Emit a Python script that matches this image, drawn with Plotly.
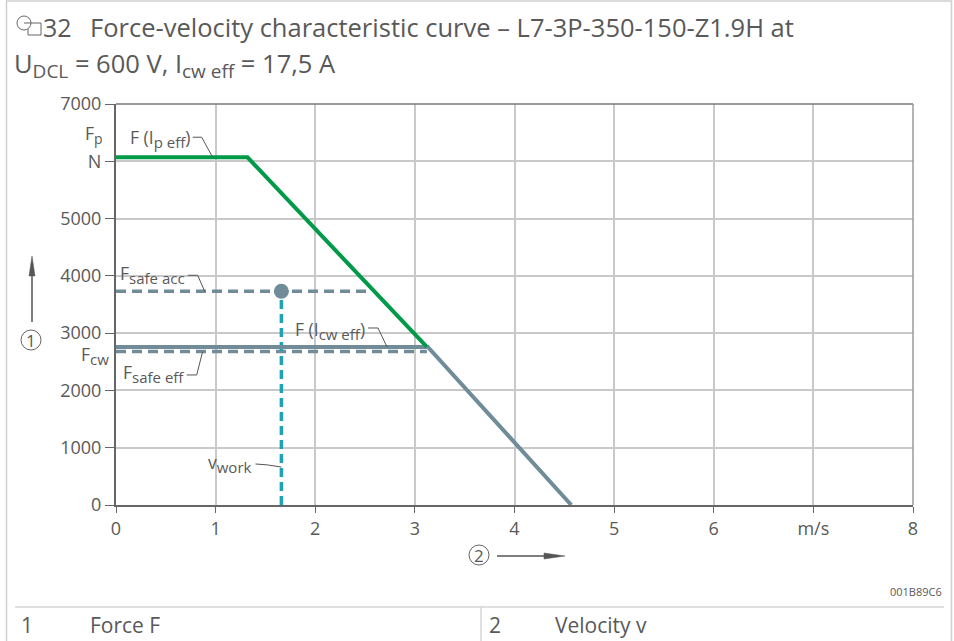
import plotly.graph_objects as go

# ---- data -------------------------------------------------------------
v_peak = [0.0, 1.32, 3.12]          # m/s
F_peak = [6070, 6070, 2760]         # N
v_cont = [0.0, 3.13, 4.57]
F_cont = [2760, 2760, 0]
F_safe_acc = 3730
v_safe_acc_end = 2.55
F_safe_eff = 2680
v_safe_eff_end = 3.12
v_work = 1.66

x_tickvals = [0, 1, 2, 3, 4, 5, 6, 7, 8]
x_ticktext = ["0", "1", "2", "3", "4", "5", "6", "m/s", "8"]
y_tickvals = [0, 1000, 2000, 3000, 4000, 5000, 6000, 7000]
y_ticktext = ["0", "1000", "2000", "3000", "4000", "5000", "N", "7000"]

# ---- styles -----------------------------------------------------------
W, H = 954, 641
ML, MR, MT, MB = 116, 41, 104, 136
PW, PH = W - ML - MR, H - MT - MB
GREEN = "#009a48"
SLATE = "#6f8c98"
CYAN = "#1ea2b5"
TXT = "#595959"
GRID = "#c9c9c9"
FONT = "Open Sans"
LBL = 17.5


def px(xp):
    return (xp - ML) / PW


def py(yp):
    return (H - MB - yp) / PH


def sub(t, size=15):
    return f"<sub><span style='font-size:{size}px'>{t}</span></sub>"


fig = go.Figure()

fig.add_trace(go.Scatter(x=[0, v_safe_eff_end], y=[F_safe_eff] * 2, mode="lines",
                         line=dict(color=SLATE, width=3.5, dash="10px,6px"), hoverinfo="skip"))
fig.add_trace(go.Scatter(x=[0, v_safe_acc_end], y=[F_safe_acc] * 2, mode="lines",
                         line=dict(color=SLATE, width=3.5, dash="10px,6px"), hoverinfo="skip"))
fig.add_trace(go.Scatter(x=[v_work, v_work], y=[0, F_safe_acc], mode="lines",
                         line=dict(color=CYAN, width=3.5, dash="9px,5px"), hoverinfo="skip"))
fig.add_trace(go.Scatter(x=v_cont, y=F_cont, mode="lines",
                         line=dict(color=SLATE, width=4), hoverinfo="skip"))
fig.add_trace(go.Scatter(x=v_peak, y=F_peak, mode="lines",
                         line=dict(color=GREEN, width=4), hoverinfo="skip"))
fig.add_trace(go.Scatter(x=[v_work], y=[F_safe_acc], mode="markers",
                         marker=dict(color=SLATE, size=15), hoverinfo="skip"))

shapes = []
annotations = []

# leader lines for the curve labels (data coordinates)
leaders = [
    [(0.77, 6420), (0.86, 6420), (0.97, F_peak[0])],
    [(0.72, 4010), (0.82, 4010), (0.89, F_safe_acc)],
    [(2.53, 3090), (2.63, 3090), (2.72, F_cont[0])],
    [(0.71, 2270), (0.81, 2270), (0.87, F_safe_eff)],
    [(1.40, 716), (1.52, 700), (v_work, 663)],
]
for pts in leaders:
    path = "M " + " L ".join(f"{a},{b}" for a, b in pts)
    shapes.append(dict(type="path", path=path, xref="x", yref="y",
                       line=dict(color="#555555", width=1)))


def label(x, y, text, xanchor="right"):
    annotations.append(dict(x=x, y=y, xref="x", yref="y", text=text, showarrow=False,
                            xanchor=xanchor, yanchor="middle",
                            font=dict(family=FONT, size=LBL, color=TXT)))


label(0.76, 6400, "F (I" + sub("p eff") + ")")
label(0.71, 4020, "F" + sub("safe acc"))
label(2.52, 3040, "F (I" + sub("cw eff") + ")")
label(0.70, 2300, "F" + sub("safe eff"))
label(1.39, 720, "v" + sub("work"))

# extra y labels beside the ticks
annotations.append(dict(x=px(105), y=py(135), xref="paper", yref="paper",
                        text="F" + sub("p", 14),
                        showarrow=False, xanchor="right", yanchor="middle",
                        font=dict(family=FONT, size=LBL, color=TXT)))
annotations.append(dict(x=px(111), y=py(355), xref="paper", yref="paper",
                        text="F" + sub("cw"),
                        showarrow=False, xanchor="right", yanchor="middle",
                        font=dict(family=FONT, size=LBL, color=TXT)))

# plot frame: top and right edges
shapes.append(dict(type="line", xref="paper", yref="paper", x0=0, x1=1, y0=1, y1=1,
                   line=dict(color="#777777", width=1.5)))
shapes.append(dict(type="line", xref="paper", yref="paper", x0=1, x1=1, y0=0, y1=1,
                   line=dict(color="#9a9a9a", width=1.5)))

# axis direction arrows with circled numbers
ARROW = "#555555"
shapes.append(dict(type="line", xref="paper", yref="paper", x0=px(32), x1=px(32),
                   y0=py(322), y1=py(272), line=dict(color=ARROW, width=1.5)))
shapes.append(dict(type="path", xref="paper", yref="paper",
                   path=f"M {px(29)},{py(276)} L {px(32)},{py(256)} L {px(35)},{py(276)} Z",
                   fillcolor=ARROW, line=dict(color=ARROW, width=0.5)))
shapes.append(dict(type="line", xref="paper", yref="paper", x0=px(497), x1=px(548),
                   y0=py(556), y1=py(556), line=dict(color=ARROW, width=1.5)))
shapes.append(dict(type="path", xref="paper", yref="paper",
                   path=f"M {px(544)},{py(553)} L {px(565)},{py(556)} L {px(544)},{py(559)} Z",
                   fillcolor=ARROW, line=dict(color=ARROW, width=0.5)))
for cx, cy, t in [(31, 340, "1"), (479, 555, "2")]:
    shapes.append(dict(type="circle", xref="paper", yref="paper",
                       x0=px(cx - 10), x1=px(cx + 10), y0=py(cy + 10), y1=py(cy - 10),
                       line=dict(color="#666666", width=1)))
    annotations.append(dict(x=px(cx), y=py(cy), xref="paper", yref="paper", text=t,
                            showarrow=False, xanchor="center", yanchor="middle",
                            font=dict(family=FONT, size=17, color=TXT)))

# title block
shapes.append(dict(type="circle", xref="paper", yref="paper",
                   x0=px(17), x1=px(31), y0=py(30), y1=py(16),
                   line=dict(color="#666666", width=1)))
shapes.append(dict(type="path", xref="paper", yref="paper",
                   path=f"M {px(24)},{py(23)} L {px(41)},{py(23)} L {px(41)},{py(35)} "
                        f"L {px(28)},{py(35)} L {px(28)},{py(29)}",
                   line=dict(color="#666666", width=1)))
annotations.append(dict(x=px(41), y=py(27), xref="paper", yref="paper", text="32",
                        showarrow=False, xanchor="left", yanchor="middle",
                        font=dict(family=FONT, size=25, color=TXT)))
annotations.append(dict(x=px(88), y=py(27), xref="paper", yref="paper",
                        text="Force-velocity characteristic curve – L7-3P-350-150-Z1.9H at",
                        showarrow=False, xanchor="left", yanchor="middle",
                        font=dict(family=FONT, size=25.5, color=TXT)))
annotations.append(dict(x=px(12), y=py(65), xref="paper", yref="paper",
                        text="U" + sub("DCL", 19) + " = 600 V, I" + sub("cw eff", 19) + " = 17,5 A",
                        showarrow=False, xanchor="left", yanchor="middle",
                        font=dict(family=FONT, size=25.5, color=TXT)))

# drawing number
annotations.append(dict(x=px(944), y=py(591), xref="paper", yref="paper", text="001B89C6",
                        showarrow=False, xanchor="right", yanchor="middle",
                        font=dict(family=FONT, size=11, color=TXT)))

# legend table below the figure
shapes.append(dict(type="line", xref="paper", yref="paper", x0=px(15), x1=px(944),
                   y0=py(607), y1=py(607), line=dict(color="#d4d4d4", width=1.5)))
shapes.append(dict(type="line", xref="paper", yref="paper", x0=px(481), x1=px(481),
                   y0=py(607), y1=py(641), line=dict(color="#d4d4d4", width=1.5)))
for x, t in [(19, "1"), (88, "Force F"), (487, "2"), (553, "Velocity v")]:
    annotations.append(dict(x=px(x), y=py(625), xref="paper", yref="paper", text=t,
                            showarrow=False, xanchor="left", yanchor="middle",
                            font=dict(family=FONT, size=21, color=TXT)))

# outer border of the figure box
shapes.append(dict(type="path", xref="paper", yref="paper",
                   path=f"M {px(6.5)},{py(645)} L {px(6.5)},{py(1)} L {px(951.5)},{py(1)} "
                        f"L {px(951.5)},{py(645)}",
                   line=dict(color="#d0d0d0", width=1.5)))

fig.update_layout(
    width=W, height=H, autosize=False,
    margin=dict(l=ML, r=MR, t=MT, b=MB),
    paper_bgcolor="white", plot_bgcolor="white",
    showlegend=False,
    font=dict(family=FONT, color=TXT),
    shapes=shapes, annotations=annotations,
    xaxis=dict(range=[0, 8], tickvals=x_tickvals, ticktext=x_ticktext,
               showgrid=True, gridcolor=GRID, gridwidth=2, zeroline=False,
               showline=True, linecolor="#666666", linewidth=2,
               ticks="outside", ticklen=6, tickcolor="#666666", tickwidth=1,
               tickfont=dict(family=FONT, size=18, color=TXT)),
    yaxis=dict(range=[0, 7000], tickvals=y_tickvals, ticktext=y_ticktext,
               showgrid=True, gridcolor=GRID, gridwidth=2, zeroline=False,
               showline=True, linecolor="#666666", linewidth=2,
               ticks="outside", ticklen=9, tickcolor="#666666", tickwidth=1,
               tickfont=dict(family=FONT, size=18, color=TXT)),
)

fig.write_html("out.html")
